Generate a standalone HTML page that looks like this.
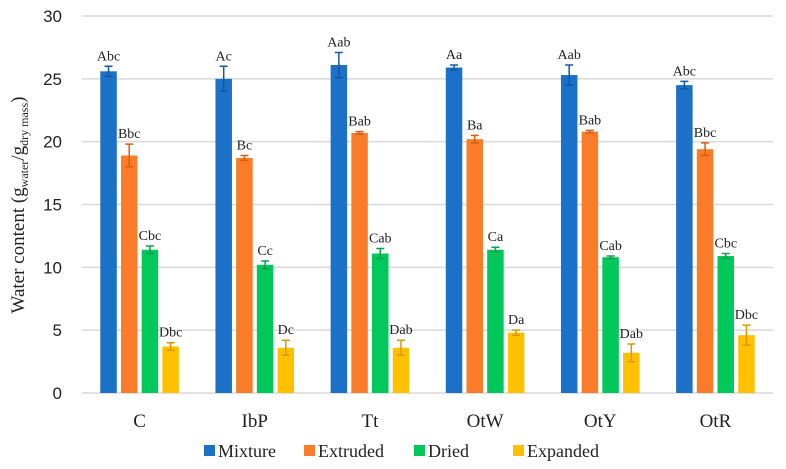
<!DOCTYPE html>
<html><head><meta charset="utf-8"><style>
body{margin:0;background:#fff}
svg{display:block;font-family:"Liberation Serif",serif}
</style></head><body>
<svg id="chart" width="786" height="469"></svg>
<script>
const categories=["C","IbP","Tt","OtW","OtY","OtR"];
const seriesNames=["Mixture","Extruded","Dried","Expanded"];
const mixture=[25.6,25.0,26.1,25.9,25.3,24.5];
const extruded=[18.9,18.7,20.7,20.2,20.8,19.4];
const dried=[11.4,10.2,11.1,11.4,10.8,10.9];
const expanded=[3.7,3.6,3.6,4.8,3.2,4.6];
const mixtureErr=[0.4,1.0,1.0,0.2,0.8,0.3];
const extrudedErr=[0.9,0.2,0.1,0.3,0.1,0.5];
const driedErr=[0.3,0.3,0.4,0.2,0.1,0.2];
const expandedErr=[0.3,0.6,0.6,0.2,0.7,0.8];
const mixtureLbl=["Abc","Ac","Aab","Aa","Aab","Abc"];
const extrudedLbl=["Bbc","Bc","Bab","Ba","Bab","Bbc"];
const driedLbl=["Cbc","Cc","Cab","Ca","Cab","Cbc"];
const expandedLbl=["Dbc","Dc","Dab","Da","Dab","Dbc"];
const yTicks=[0,5,10,15,20,25,30];

const svg=document.getElementById('chart');
const NS='http://www.w3.org/2000/svg';
const X0=82,X1=773,Y0=393,Y1=16;
const y=v=>Y0-(v/30)*(Y0-Y1);
const cw=(X1-X0)/categories.length;
const barW=16.5,step=20.7;
const xb=(ci,si)=>X0+cw*ci+cw/2-2*step+si*step+(step-barW)/2;
function mk(t,a,p){const e=document.createElementNS(NS,t);for(const k in a)e.setAttribute(k,a[k]);(p||svg).appendChild(e);return e;}
const colors=["#1b70c8","#fa7c28","#00c85a","#ffc000"];
const errColors=["#1458a0","#d85e14","#0aa04a","#d89a00"];
const vals=[mixture,extruded,dried,expanded];
const errs=[mixtureErr,extrudedErr,driedErr,expandedErr];
const lbls=[mixtureLbl,extrudedLbl,driedLbl,expandedLbl];

yTicks.forEach(t=>{
  const g=mk('line',{x1:X0,x2:X1,y1:y(t),y2:y(t),stroke:'#d9d9d9','stroke-width':1.5});
  
  
  const tx=mk('text',{x:62,y:y(t)+6,'text-anchor':'end','font-size':17,fill:'#222','font-family':'Liberation Sans, sans-serif'});
  tx.textContent=t;
  
  
});
categories.forEach((c,ci)=>{
  const t=mk('text',{x:X0+cw*ci+cw/2,y:427,'text-anchor':'middle','font-size':19,fill:'#222'});
  t.textContent=c;
  
  
  vals.forEach((arr,si)=>{
    const v=arr[ci],e=errs[si][ci],x=xb(ci,si);
    const r=mk('rect',{x:x,y:y(v),width:barW,height:Y0-y(v),fill:colors[si]});
    
    
    const cx=x+barW/2,ec=errColors[si];
    const eb=mk('path',{d:`M${cx} ${y(v+e)}V${y(v-e)}M${cx-4} ${y(v+e)}H${cx+4}M${cx-4} ${y(v-e)}H${cx+4}`,stroke:ec,'stroke-width':1.5,fill:'none'});
    
    
    const lt=mk('text',{x:cx,y:y(v+e)-6,'text-anchor':'middle','font-size':14,fill:'#222'});
    lt.textContent=lbls[si][ci];
    
    
  });
});
const yt=mk('text',{transform:'translate(24,205) rotate(-90)','text-anchor':'middle','font-size':19,fill:'#222'});


yt.innerHTML='Water content (g<tspan font-size="12" dy="4">water</tspan><tspan dy="-4">/g</tspan><tspan font-size="12" dy="4">dry mass</tspan><tspan dy="-4">)</tspan>';
const legX=[204,304,414,513];
seriesNames.forEach((n,i)=>{
  const g=mk('g',{});
  
  
  mk('rect',{x:legX[i],y:445,width:11,height:11,fill:colors[i]},g);
  const t=mk('text',{x:legX[i]+14,y:457,'font-size':18,fill:'#222'},g);
  t.textContent=n;
});
</script>
</body></html>
